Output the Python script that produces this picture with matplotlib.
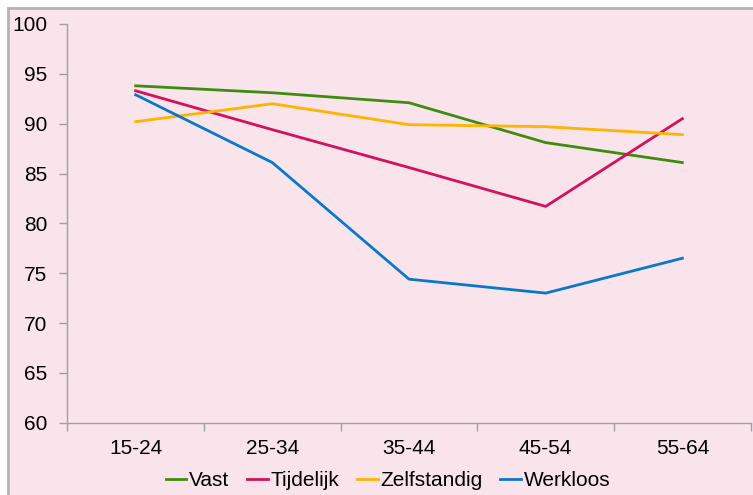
import numpy as np
import matplotlib.pyplot as plt
from matplotlib.patches import Rectangle

plt.rcParams['font.family'] = ['Liberation Sans', 'DejaVu Sans']

categories = ['15-24', '25-34', '35-44', '45-54', '55-64']
vast = [93.8, 93.1, 92.1, 88.1, 86.1]
tijdelijk = [93.3, 89.4, 85.6, 81.7, 90.5]
zelfstandig = [90.2, 92.0, 89.9, 89.7, 88.9]
werkloos = [92.9, 86.1, 74.4, 73.0, 76.5]

series = [
    ('Vast', vast, '#3D8C10'),
    ('Tijdelijk', tijdelijk, '#D4115E'),
    ('Zelfstandig', zelfstandig, '#FFB400'),
    ('Werkloos', werkloos, '#0A78C8'),
]

bg = '#F9E4EC'
grey = '#A0A0A0'
fs = 15

fig = plt.figure(figsize=(7.53, 4.95), dpi=100, facecolor='white')
# chart area with a grey frame, behind the axes
fig.patches.append(Rectangle((8 / 753, -0.05), 1.0, 1.05 - 7.5 / 495,
                             transform=fig.transFigure, facecolor=bg,
                             edgecolor='#B8B0B4', linewidth=2, zorder=-1))

ax = fig.add_axes([67.3 / 753, (495 - 422.7) / 495, (750.7 - 67.3) / 753,
                   (422.7 - 24) / 495])
ax.set_facecolor(bg)

x = np.arange(len(categories))
for name, vals, color in series:
    ax.plot(x, vals, color=color, lw=2, label=name)

ax.set_xlim(-0.5, len(categories) - 0.5)
ax.set_ylim(60, 100)
ax.set_yticks(np.arange(60, 101, 5))
ax.set_xticks(x)
ax.set_xticklabels(categories)
ax.set_xticks(np.arange(-0.5, len(categories)), minor=True)

ax.tick_params(axis='x', which='major', length=0, pad=12, labelsize=fs)
ax.tick_params(axis='x', which='minor', length=6, color=grey, width=1)
ax.tick_params(axis='y', length=6, color=grey, width=1, pad=8.5, labelsize=fs)

for side in ['top', 'right']:
    ax.spines[side].set_visible(False)
for side in ['left', 'bottom']:
    ax.spines[side].set_color(grey)
    ax.spines[side].set_linewidth(1)

ax.legend(loc='center', bbox_to_anchor=(0.5 - 0.031, -(481 - 422.7) / 398.7),
          ncol=4, frameon=False, fontsize=fs, handlelength=1.0,
          handletextpad=0.12, columnspacing=0.85, borderaxespad=0,
          borderpad=0)

fig.savefig('out.png', dpi=100, facecolor=fig.get_facecolor())
